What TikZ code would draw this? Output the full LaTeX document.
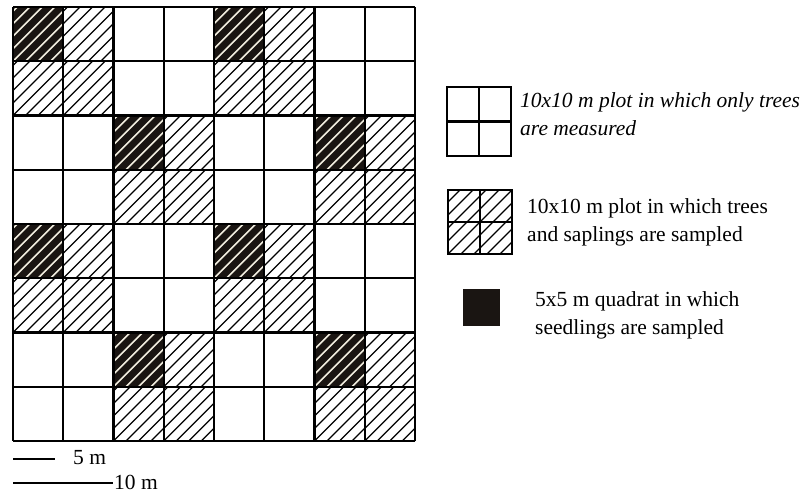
\documentclass[tikz,border=0pt]{standalone}
\usepackage{fontspec}
\setmainfont{Liberation Serif}
\definecolor{hatchlight}{HTML}{F2EEE0}
\definecolor{seedblack}{HTML}{1A1512}
\begin{document}
\begin{tikzpicture}[x=1pt,y=-1pt,
  gridline/.style={line width=2.2pt,draw=black},
  hatchline/.style={line width=1.1pt,draw=black},
  lighthatch/.style={line width=1.6pt,draw=hatchlight},
  lbl/.style={anchor=base west,inner sep=0pt,align=left,font=\fontsize{21.5}{27.5}\selectfont},
  barline/.style={line width=1.3pt}]
\useasboundingbox[fill=white] (0,0) rectangle (804,493);
\def\cw{50.25}\def\ch{54.25}
% seedling quadrats (black cells)
\foreach \r/\c in {0/0,0/4,2/2,2/6,4/0,4/4,6/2,6/6}{
  \fill[seedblack] (13+\c*\cw,7+\r*\ch) rectangle ++(\cw,\ch);
}
% hatching
\foreach \r in {0,...,7}{
  \foreach \c in {0,...,7}{
    \pgfmathtruncatemacro\ishat{mod(div(\r,2)+div(\c,2),2)==0 ? 1 : 0}
    \pgfmathtruncatemacro\isblk{(\ishat==1 && mod(\r,2)==0 && mod(\c,2)==0) ? 1 : 0}
    \pgfmathsetmacro\xx{13+\c*\cw}
    \pgfmathsetmacro\yy{7+\r*\ch}
    \ifnum\ishat=1
      \ifnum\isblk=1 \def\hs{lighthatch}\else\def\hs{hatchline}\fi
      \begin{scope}
        \clip (\xx,\yy) rectangle ++(\cw,\ch);
        \foreach \k in {-5,...,4}{
          \draw[\hs] (\xx+\k*12.5,\yy+\ch) -- ++(62,-62);
        }
      \end{scope}
    \fi
  }
}
% grid lines
\foreach \i in {0,...,8}{
  \draw[gridline] (13+\i*\cw,7) -- (13+\i*\cw,441);
  \draw[gridline] (13,7+\i*\ch) -- (415,7+\i*\ch);
}
% legend 1: white plot
\draw[gridline] (447,87) rectangle (511,156);
\draw[gridline] (479,87) -- (479,156);
\draw[gridline] (447,121.5) -- (511,121.5);
\node[lbl] (leg1) at (520,135) {\itshape 10x10 m plot in which only trees\\ \itshape are measured};
% legend 2: hatched plot
\begin{scope}
  \clip (448,190) rectangle (512,254);
  \foreach \k in {-6,...,6}
    \draw[hatchline] (448+\k*13,254) -- ++(70,-70);
\end{scope}
\draw[gridline] (448,190) rectangle (512,254);
\draw[gridline] (480,190) -- (480,254);
\draw[gridline] (448,222) -- (512,222);
\node[lbl] (leg2) at (527,241) {10x10 m plot in which trees\\and saplings are sampled};
% legend 3: seedling quadrat
\fill[seedblack] (463,289) rectangle (500,326);
\node[lbl] (leg3) at (535,334) {5x5 m quadrat in which\\seedlings are sampled};
% scale bars
\coordinate (b5a) at (13,459);
\node[lbl] (t5) at (73,464) {5 m};
\draw[barline] (b5a) -- (55,459);
\coordinate (b10a) at (13,483);
\node[lbl] (t10) at (114,489) {10 m};
\draw[barline] (b10a) -- ([xshift=-1pt]t10.west |- b10a);
\end{tikzpicture}
\end{document}
